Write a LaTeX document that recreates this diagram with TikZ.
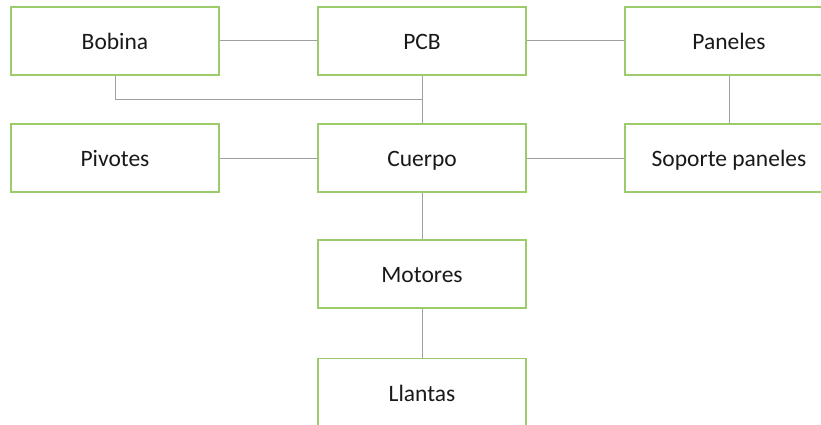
\documentclass[tikz,border=0pt]{standalone}
\usepackage{fontspec}
\setmainfont{Carlito}
\definecolor{boxgreen}{HTML}{9BCB6B}
\definecolor{linkgray}{HTML}{A0A0A0}
\begin{document}
\begin{tikzpicture}[x=1pt,y=-1pt,
  part/.style={draw=boxgreen,line width=1.3pt,fill=white,minimum width=208pt,minimum height=68pt,inner sep=0pt,text height=20pt,text depth=3pt,font=\fontsize{23.5}{28}\selectfont,text=black!90},
  link/.style={draw=linkgray,line width=1pt}]
\useasboundingbox (0,0) rectangle (821,425);
% parts of the assembly
\node[part] (bobina)  at (115,41)  {Bobina};
\node[part] (pcb)     at (422,41)  {PCB};
\node[part] (paneles) at (729,41)  {Paneles};
\node[part] (pivotes) at (115,158) {Pivotes};
\node[part] (cuerpo)  at (422,158) {Cuerpo};
\node[part] (soporte) at (729,158) {Soporte paneles};
\node[part] (motores) at (422,274) {Motores};
\node[part] (llantas) at (422,392.5) {Llantas};
% connections
\coordinate (corner) at (bobina.south |- 0,100);
\draw[link] (bobina) -- (pcb);
\draw[link] (pcb) -- (paneles);
\draw[link] (pcb) -- (cuerpo);
\draw[link] (bobina.south) -- (corner) -- (corner -| cuerpo.north);
\draw[link] (paneles) -- (soporte);
\draw[link] (pivotes) -- (cuerpo);
\draw[link] (cuerpo) -- (soporte);
\draw[link] (cuerpo) -- (motores);
\draw[link] (motores) -- (llantas);
\end{tikzpicture}
\end{document}
